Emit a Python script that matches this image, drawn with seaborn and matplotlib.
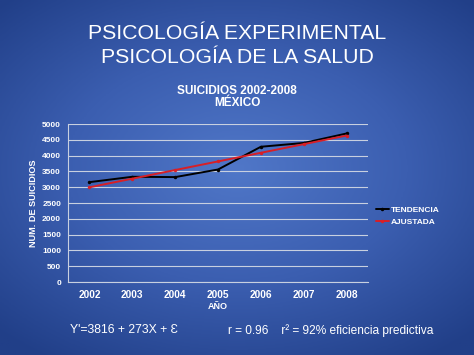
import numpy as np
import pandas as pd
import matplotlib
matplotlib.use("Agg")
import matplotlib.pyplot as plt
import seaborn as sns
from matplotlib.colors import LinearSegmentedColormap

years = ["2002", "2003", "2004", "2005", "2006", "2007", "2008"]
tendencia = [3160, 3330, 3320, 3560, 4280, 4400, 4700]
ajustada = [2997, 3270, 3543, 3816, 4089, 4362, 4635]
yticks = [0, 500, 1000, 1500, 2000, 2500, 3000, 3500, 4000, 4500, 5000]

df = pd.DataFrame({"year": years * 2,
                   "value": tendencia + ajustada,
                   "serie": ["TENDENCIA"] * 7 + ["AJUSTADA"] * 7})

sns.set_style("white")
plt.rcParams['font.family'] = ['Liberation Sans', 'DejaVu Sans']

fig = plt.figure(figsize=(4.74, 3.55), dpi=100)

# background gradient (slide)
bg = fig.add_axes([0, 0, 1, 1])
yy, xx = np.mgrid[-1:1:200j, -1:1:260j]
r = np.sqrt((xx * 0.9) ** 2 + ((yy + 0.05) * 1.0) ** 2)
cmap = LinearSegmentedColormap.from_list("slide", ["#5077c8", "#3b5eb0", "#213f88"])
bg.imshow(r, cmap=cmap, aspect="auto", extent=[0, 1, 0, 1], vmin=0, vmax=1.3)
bg.axis("off")

ax = fig.add_axes([0.1435, 0.2056, 0.6329, 0.4451])
ax.patch.set_alpha(0)
sns.lineplot(data=df, x="year", y="value", hue="serie",
             palette={"TENDENCIA": "black", "AJUSTADA": "#d81f26"},
             marker="o", markersize=2.5, markeredgewidth=0, linewidth=1.4,
             ax=ax, sort=False)

ax.set_xlim(-0.5, 6.5)
ax.set_ylim(0, 5000)
ax.set_yticks(yticks)
ax.grid(axis="y", color="#c8d0e0", linewidth=0.8)
ax.set_axisbelow(True)
for s in ["top", "right"]:
    ax.spines[s].set_visible(False)
ax.spines["left"].set_color("#c8d0e0")
ax.spines["bottom"].set_color("#c8d0e0")
ax.set_xticks(np.arange(-0.5, 7, 1), minor=True)
ax.tick_params(axis="x", which="major", length=0, colors="white", labelsize=7.3, pad=6)
ax.tick_params(axis="x", which="minor", length=3, color="#c8d0e0", direction="out")
ax.tick_params(axis="y", length=3, color="#c8d0e0", colors="white", labelsize=6, pad=2)
for lab in ax.get_xticklabels() + ax.get_yticklabels():
    lab.set_fontweight("bold")

ax.set_xlabel("AÑO", color="white", fontsize=6.5, fontweight="bold", labelpad=1)
ax.set_ylabel("NUM. DE SUICIDIOS", color="white", fontsize=6.6, fontweight="bold", labelpad=3)

leg = ax.legend(loc="center left", bbox_to_anchor=(1.0, 0.415), frameon=False,
                fontsize=6, handlelength=1.6, handletextpad=0.2, labelspacing=0.5)
for t in leg.get_texts():
    t.set_color("white")
    t.set_fontweight("bold")

fig.text(0.5, 0.907, "PSICOLOGÍA EXPERIMENTAL", ha="center", va="center",
         color="white", fontsize=15.3)
fig.text(0.5, 0.838, "PSICOLOGÍA DE LA SALUD", ha="center", va="center",
         color="white", fontsize=15.3)
fig.text(0.5, 0.726, "SUICIDIOS 2002-2008\nMÉXICO", ha="center", va="center",
         color="white", fontsize=8.5, fontweight="bold", linespacing=1.05)
fig.text(0.148, 0.07, "Y'=3816 + 273X + Ɛ", ha="left", va="center",
         color="white", fontsize=8.8)
fig.text(0.481, 0.07, "r = 0.96    r² = 92% eficiencia predictiva", ha="left", va="center",
         color="white", fontsize=8.6)

fig.savefig("out.png", dpi=100)
